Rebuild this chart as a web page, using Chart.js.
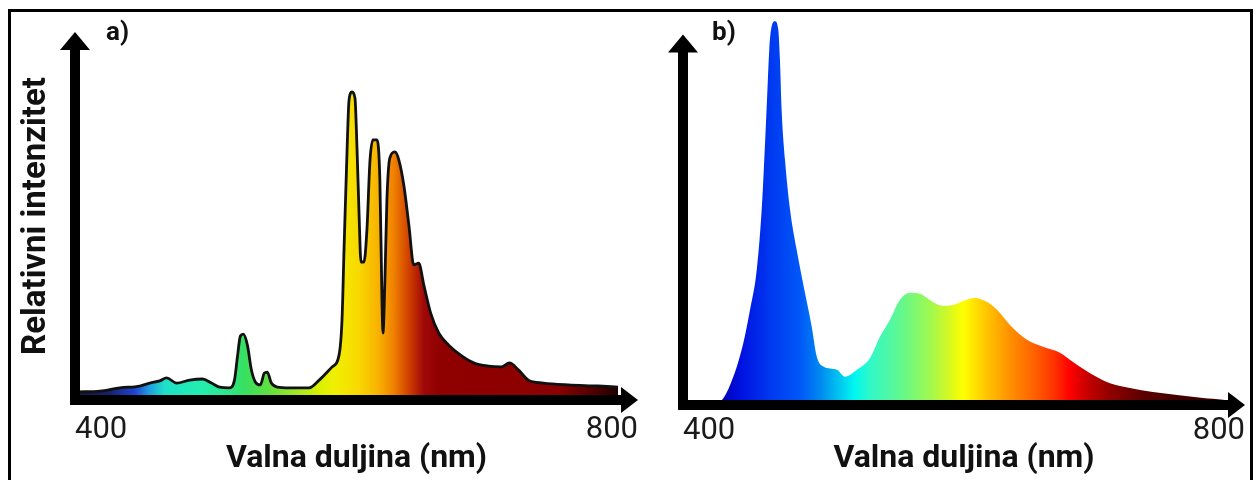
<!DOCTYPE html>
<html>
<head>
<meta charset="utf-8">
<script src="https://cdn.jsdelivr.net/npm/chart.js@4.4.1/dist/chart.umd.min.js"></script>
<style>
html,body{margin:0;padding:0;background:#fff;width:1259px;height:480px;overflow:hidden;}
#frame{position:absolute;left:8px;top:9px;width:1245px;height:500px;border:3px solid #000;box-sizing:border-box;}
.panel{position:absolute;top:0;height:480px;}
#pa{left:0;width:650px;}
#pb{left:650px;width:609px;}
canvas{display:block;}
</style>
</head>
<body>
<div id="frame"></div>
<div class="panel" id="pa"><canvas id="ca" width="650" height="480"></canvas></div>
<div class="panel" id="pb"><canvas id="cb" width="609" height="480"></canvas></div>
<script>
// ---------------- DATA ----------------
const xTicks = [400, 800];
const xTitle = 'Valna duljina (nm)';
const yTitle = 'Relativni intenzitet';
const panelLabels = ['a)', 'b)'];

// a) high-pressure sodium spectrum (wavelength nm, relative intensity)
const hpsWavelength = [402.1, 417.7, 431.9, 446.0, 453.1, 460.2, 465.1, 472.2, 481.4, 490.6, 497.0, 502.7, 509.7,
  513.3, 515.4, 517.5, 519.6, 522.5, 525.3, 528.1, 531.7, 534.5, 536.6, 539.5, 543.7, 552.2, 566.4, 573.5, 582.7,
  587.6, 589.7, 591.2, 593.3, 594.7, 596.8, 598.9, 600.4, 601.8, 603.2, 605.3, 607.4, 609.6, 611.7, 614.5, 616.6,
  618.1, 618.8, 620.2, 621.6, 623.7, 627.3, 630.1, 633.6, 637.2, 640.7, 644.2, 647.8, 652.7, 658.4, 665.5, 674.0,
  683.2, 693.8, 703.0, 708.7, 715.0, 722.1, 732.7, 750.4, 771.7, 785.8];
const hpsIntensity = [2.2, 2.4, 3.3, 3.8, 4.6, 5.2, 6.0, 4.6, 5.4, 5.7, 4.6, 3.5, 3.3,
  5.4, 11.7, 17.4, 17.9, 14.9, 8.2, 4.9, 4.1, 7.3, 7.6, 4.6, 3.5, 3.3, 3.3, 5.4, 9.0,
  12.2, 21.7, 41.6, 67.9, 81.5, 83.7, 82.1, 67.9, 50.8, 37.5, 37.5, 46.2, 65.2, 70.7, 70.7, 59.8,
  27.2, 18.2, 32.6, 54.3, 65.8, 67.4, 65.2, 58.4, 47.6, 36.7, 37.2, 31.3, 23.6, 18.2, 14.9, 12.2,
  10.1, 9.2, 9.0, 10.1, 8.2, 5.4, 4.6, 4.1, 3.8, 3.5];

// b) white LED spectrum (wavelength nm, relative intensity)
const ledWavelength = [403.6, 422.8, 428.7, 435.8, 442.9, 447.7, 452.5, 456.0, 458.4, 460.0, 461.4, 463.1, 465.5,
  467.8, 469.0, 470.2, 472.6, 476.2, 480.9, 486.8, 491.6, 495.2, 499.9, 509.6, 515.3, 523.8, 533.1, 540.2, 547.3,
  554.4, 561.6, 568.7, 577.9, 584.3, 592.2, 599.3, 607.8, 616.4, 623.5, 632.7, 644.8, 656.2, 668.3, 677.6, 689.7,
  703.9, 718.1, 734.5, 751.6, 770.1, 784.3, 795.0];
const ledIntensity = [0, 0.3, 1.8, 7.6, 16.7, 25.7, 36.5, 52.7, 70.7, 84.2, 95.9, 102.2, 103.6,
  101.4, 93.2, 79.7, 66.2, 52.7, 41.9, 30.3, 21.2, 13.1, 10.4, 9.5, 7.6, 9.5, 12.7, 18.4, 23.0,
  28.4, 30.3, 30.0, 27.8, 26.8, 27.0, 28.1, 28.9, 27.8, 25.7, 21.6, 17.6, 15.7, 14.1, 11.6, 8.6,
  5.9, 4.6, 3.5, 2.7, 1.9, 1.4, 0.5];

// ---------------- STYLE ----------------
const FONT = "Roboto, 'Open Sans', 'DejaVu Sans', sans-serif";
const hpsStops = [[400,'#14143c'],[424.8,'#16226e'],[442.5,'#2044d0'],[453,'#20a0e0'],[463.7,'#20e0c8'],
  [488.5,'#22eeb0'],[509.7,'#30e488'],[520.4,'#38e060'],[538,'#60e040'],[559.3,'#a8e820'],[573.5,'#d8f000'],
  [584,'#f0f000'],[601.8,'#f8d800'],[616,'#f8b000'],[626.5,'#f08000'],[637.2,'#d04000'],[647.8,'#a00808'],
  [658.4,'#900000'],[743.4,'#8a0000'],[771.7,'#480000'],[789.4,'#140000']];
const ledStops = [[418,'#0000a0'],[426,'#0000b0'],[440.6,'#0010e0'],[461.9,'#0038f0'],[483.3,'#0058f8'],
  [497.5,'#0088f0'],[511.7,'#00c8f0'],[522.4,'#00f8f0'],[533,'#30f8c8'],[554.4,'#60f890'],[575.8,'#a0f850'],
  [590,'#d8f820'],[599.3,'#ffff00'],[615,'#ffc800'],[632.7,'#ff9000'],[650.5,'#ff6000'],[664.8,'#ff3000'],
  [675.4,'#ff0000'],[689.7,'#c00000'],[703.9,'#900000'],[725.3,'#600000'],[753.7,'#400000'],[796.4,'#300000']];

function spectrumFill(stops) {
  return function(ctx) {
    const chart = ctx.chart, a = chart.chartArea;
    if (!a) return 'rgba(0,0,0,0)';
    const xs = chart.scales.x;
    const g = chart.ctx.createLinearGradient(a.left, 0, a.right, 0);
    stops.forEach(([wl, c]) => {
      let f = (xs.getPixelForValue(wl) - a.left) / (a.right - a.left);
      g.addColorStop(Math.min(1, Math.max(0, f)), c);
    });
    return g;
  };
}

// axis lines with arrow heads; the y arrow tip sits at value 100 of the y scale
const axisArrows = {
  id: 'axisArrows',
  afterDatasetsDraw(chart, args, o) {
    const {ctx, chartArea: a} = chart;
    const w = o.lineWidth;
    const tipY = chart.scales.y.getPixelForValue(100);
    ctx.save();
    ctx.fillStyle = '#000';
    ctx.strokeStyle = '#000';
    ctx.lineWidth = w;
    ctx.lineCap = 'butt';
    ctx.beginPath();
    ctx.moveTo(a.left, a.bottom + w / 2);
    ctx.lineTo(a.left, tipY + o.yHead - 1);
    ctx.moveTo(a.left - w / 2, a.bottom);
    ctx.lineTo(a.right - o.xHead + 1, a.bottom);
    ctx.stroke();
    ctx.beginPath();
    ctx.moveTo(a.left, tipY);
    ctx.lineTo(a.left - o.yHalf, tipY + o.yHead);
    ctx.lineTo(a.left + o.yHalf, tipY + o.yHead);
    ctx.closePath();
    ctx.fill();
    ctx.beginPath();
    ctx.moveTo(a.right, a.bottom);
    ctx.lineTo(a.right - o.xHead, a.bottom - o.xHalf);
    ctx.lineTo(a.right - o.xHead, a.bottom + o.xHalf);
    ctx.closePath();
    ctx.fill();
    ctx.restore();
  }
};

const panelLabel = {
  id: 'panelLabel',
  afterDraw(chart, args, o) {
    const ctx = chart.ctx;
    ctx.save();
    ctx.font = 'bold 26px ' + FONT;
    ctx.fillStyle = '#111';
    ctx.textBaseline = 'alphabetic';
    ctx.textAlign = 'left';
    ctx.fillText(o.text, o.x, o.y);
    ctx.restore();
  }
};

function makeChart(id, cfg) {
  return new Chart(document.getElementById(id), {
    type: 'line',
    data: {
      datasets: [{
        data: cfg.wl.map((x, i) => ({x, y: cfg.val[i]})),
        fill: 'origin',
        backgroundColor: spectrumFill(cfg.stops),
        borderColor: cfg.border,
        borderWidth: cfg.borderWidth,
        pointRadius: 0,
        cubicInterpolationMode: 'monotone',
        clip: false
      }]
    },
    plugins: [axisArrows, panelLabel],
    options: {
      responsive: false,
      animation: false,
      events: [],
      layout: {padding: cfg.padding},
      plugins: {
        legend: {display: false},
        tooltip: {enabled: false},
        axisArrows: cfg.arrows,
        panelLabel: cfg.label
      },
      scales: {
        x: {
          type: 'linear', min: 400, max: 800,
          afterFit(s) { s.height = cfg.xHeight; },
          afterBuildTicks(s) { s.ticks = xTicks.map(v => ({value: v})); },
          grid: {display: false, drawTicks: false},
          border: {display: false},
          ticks: {align: 'inner', padding: cfg.tickPad, color: '#1a1a1a', maxRotation: 0, autoSkip: false,
                  font: {family: FONT, size: 31, lineHeight: 1.2}, callback: v => String(v)},
          title: {display: true, text: xTitle, color: '#111', padding: {top: 0, bottom: 2},
                  font: {family: FONT, size: 32, weight: 'bold', lineHeight: 1.2}}
        },
        y: {
          min: 0, max: cfg.yMax,
          afterFit(s) { s.width = cfg.yWidth; },
          grid: {display: false, drawTicks: false},
          border: {display: false},
          ticks: {display: false},
          title: {display: cfg.yTitle, text: yTitle, color: '#111', padding: {top: 17, bottom: 0},
                  font: {family: FONT, size: 33, weight: 'bold', lineHeight: 1.2}}
        }
      }
    }
  });
}

makeChart('ca', {
  wl: hpsWavelength, val: hpsIntensity, stops: hpsStops, border: '#111', borderWidth: 2.8,
  padding: {left: 0, top: 32, right: 10, bottom: 0}, xHeight: 80, yWidth: 75, tickPad: 12, yTitle: true, yMax: 100,
  arrows: {lineWidth: 10, yHead: 18, yHalf: 15, xHead: 17, xHalf: 13},
  label: {text: panelLabels[0], x: 106, y: 40}
});
makeChart('cb', {
  wl: ledWavelength, val: ledIntensity, stops: ledStops, border: 'rgba(0,0,0,0)', borderWidth: 0,
  padding: {left: 0, top: 16, right: 14, bottom: 0}, xHeight: 75, yWidth: 33, tickPad: 8, yTitle: false, yMax: 105,
  arrows: {lineWidth: 10, yHead: 18, yHalf: 15, xHead: 17, xHalf: 13},
  label: {text: panelLabels[1], x: 62, y: 40}
});
</script>
</body>
</html>
